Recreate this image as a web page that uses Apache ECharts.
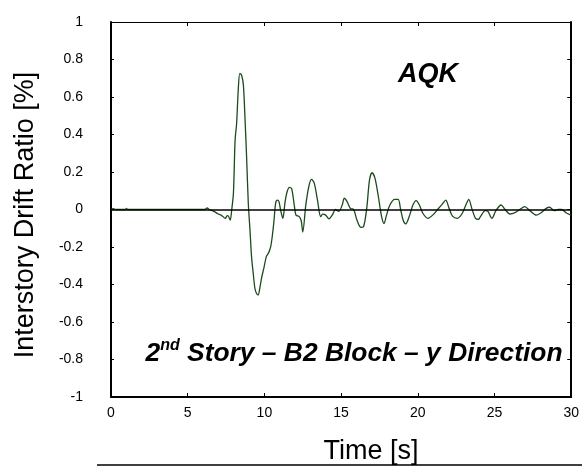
<!DOCTYPE html>
<html>
<head>
<meta charset="utf-8">
<script src="https://cdn.jsdelivr.net/npm/echarts@6/dist/echarts.min.js"></script>
<style>html,body{margin:0;padding:0;background:#fff}#c{width:582px;height:466px}</style>
</head>
<body>
<div id="c"></div>
<script>
var timeS = [0,0.15,0.3,0.95,1.0,1.1,6.1,6.27,6.4,6.7,7.0,7.23,7.45,7.55,7.62,7.77,7.87,7.98,8.09,8.19,8.3,8.4,8.51,8.63,8.74,8.84,8.95,9.06,9.16,9.27,9.38,9.48,9.59,9.7,9.81,9.96,10.13,10.28,10.41,10.51,10.62,10.73,10.84,10.95,11.05,11.2,11.35,11.48,11.63,11.78,11.96,12.06,12.27,12.4,12.5,12.7,12.9,13.07,13.24,13.46,13.67,13.8,13.99,14.21,14.42,14.63,14.85,15.07,15.21,15.39,15.6,15.82,16.03,16.29,16.46,16.67,16.85,17.02,17.21,17.43,17.64,17.8,17.96,18.18,18.5,18.72,18.88,19.04,19.21,19.47,19.68,19.89,20.1,20.33,20.65,20.97,21.29,21.61,21.82,22.04,22.26,22.58,22.9,23.18,23.32,23.54,23.76,23.97,24.08,24.4,24.57,24.83,25.09,25.43,25.69,26.01,26.33,26.65,26.97,27.3,27.73,28.05,28.37,28.58,28.91,29.16,29.38,29.66,29.98];
var driftRatio = [0,0.005,0,0,0.006,0,0,0.008,0,-0.01,-0.024,-0.033,-0.047,-0.035,-0.033,-0.056,0,0.086,0.37,0.46,0.646,0.726,0.717,0.664,0.477,0.28,0.033,-0.11,-0.25,-0.34,-0.42,-0.447,-0.456,-0.42,-0.367,-0.314,-0.25,-0.23,-0.198,-0.145,-0.065,0.033,0.05,0.042,0,-0.047,0.042,0.095,0.118,0.11,0.015,-0.03,-0.038,-0.06,-0.12,0.025,0.125,0.161,0.143,0.05,-0.038,-0.025,-0.03,-0.05,-0.03,0,-0.01,0.024,0.06,0.042,0.006,0,-0.056,-0.095,-0.092,0.006,0.157,0.196,0.166,0.068,-0.038,-0.075,-0.03,0.024,0.054,0.054,0,-0.056,-0.077,-0.03,0.024,0.047,0.024,-0.02,-0.047,-0.03,0,0.03,0.05,0.006,-0.035,-0.047,-0.02,0.033,0.054,0,-0.047,-0.052,-0.038,-0.006,-0.01,-0.047,-0.006,0.024,0,-0.024,-0.017,0,0.015,-0.006,-0.03,-0.017,0.006,0.012,-0.006,0,0,-0.017,-0.03];
var xTicks = [0,5,10,15,20,25,30];
var yTicks = [-1,-0.8,-0.6,-0.4,-0.2,0,0.2,0.4,0.6,0.8,1];
var yAxisTitle = 'Interstory Drift Ratio [%]';
var xAxisTitle = 'Time [s]';
var eventLabel = 'AQK';
var caseLabel = ['2','nd',' Story \u2013 B2 Block \u2013 y Direction'];

var pts = timeS.map(function(t,i){return [t, driftRatio[i]];});
var FONT = '"Liberation Sans", Arial, sans-serif';
var chart = echarts.init(document.getElementById('c'), null, {renderer:'canvas'});
var xMin = xTicks[0], xMax = xTicks[xTicks.length-1];
var yMin = yTicks[0], yMax = yTicks[yTicks.length-1];
chart.setOption({
  animation:false,
  backgroundColor:'#fff',
  grid:{left:111,right:5,top:22,bottom:69},
  xAxis:[
    {type:'value',min:xMin,max:xMax,interval:5,position:'bottom',
     axisLine:{show:true,onZero:false,lineStyle:{color:'#000',width:2}},
     axisTick:{show:true,inside:true,length:4,lineStyle:{color:'#000',width:1}},
     axisLabel:{show:true,color:'#000',fontSize:14,fontFamily:FONT,margin:9},
     splitLine:{show:false}},
    {type:'value',min:xMin,max:xMax,interval:5,position:'top',
     axisLine:{show:true,onZero:false,lineStyle:{color:'#000',width:1}},
     axisTick:{show:true,inside:true,length:4,lineStyle:{color:'#000',width:1}},
     axisLabel:{show:false},splitLine:{show:false}}
  ],
  yAxis:[
    {type:'value',min:yMin,max:yMax,interval:0.2,position:'left',
     axisLine:{show:true,onZero:false,lineStyle:{color:'#000',width:2}},
     axisTick:{show:true,inside:true,length:3,lineStyle:{color:'#000',width:1}},
     axisLabel:{show:true,color:'#000',fontSize:14,fontFamily:FONT,margin:28,
       formatter:function(v){return String(parseFloat(v.toFixed(1)));}},
     splitLine:{show:false}},
    {type:'value',min:yMin,max:yMax,interval:0.2,position:'right',
     axisLine:{show:true,onZero:false,lineStyle:{color:'#000',width:2}},
     axisTick:{show:true,inside:true,length:4,lineStyle:{color:'#000',width:1}},
     axisLabel:{show:false},splitLine:{show:false}}
  ],
  series:[{
    type:'line',xAxisIndex:0,yAxisIndex:0,data:pts,showSymbol:false,smooth:0.3,
    lineStyle:{color:'#1c4a1c',width:1.3},
    markLine:{silent:true,symbol:'none',label:{show:false},
      lineStyle:{color:'#000',width:1.5,type:'solid'},
      data:[{yAxis:0}]}
  }],
  graphic:[
    {type:'text',x:26,y:215,rotation:Math.PI/2,
     style:{text:yAxisTitle,font:'27px '+FONT,fill:'#000',textAlign:'center',textVerticalAlign:'middle'}},
    {type:'text',x:371,y:452,
     style:{text:xAxisTitle,font:'27px '+FONT,fill:'#000',textAlign:'center',textVerticalAlign:'middle'}},
    {type:'text',x:428,y:75,
     style:{text:eventLabel,font:'italic bold 27px '+FONT,fill:'#000',textAlign:'center',textVerticalAlign:'middle'}},
    {type:'text',x:354,y:352,
     style:{text:'{a|'+caseLabel[0]+'}{s|'+caseLabel[1]+'}{a|'+caseLabel[2]+'}',
       textAlign:'center',textVerticalAlign:'middle',
       rich:{
         a:{fontFamily:FONT,fontSize:26.4,fontWeight:'bold',fontStyle:'italic',fill:'#000',color:'#000',lineHeight:29,verticalAlign:'bottom'},
         s:{fontFamily:FONT,fontSize:16,fontWeight:'bold',fontStyle:'italic',fill:'#000',color:'#000',lineHeight:29,verticalAlign:'top'}
       }}},
    {type:'line',shape:{x1:97,y1:465,x2:582,y2:465},style:{stroke:'#000',lineWidth:1.5}}
  ]
});
</script>
</body>
</html>
